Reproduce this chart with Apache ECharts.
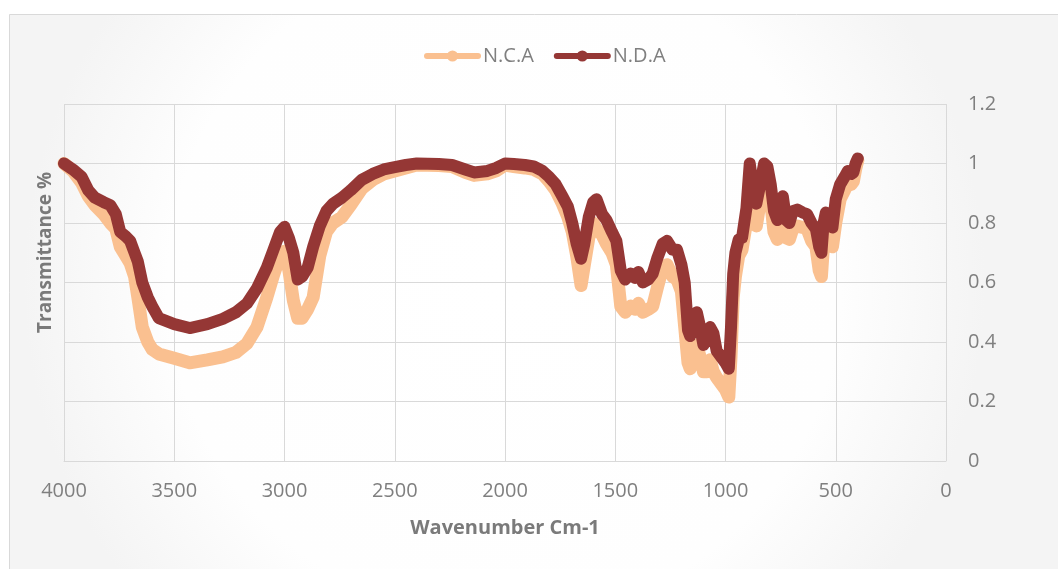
<!DOCTYPE html>
<html>
<head>
<meta charset="utf-8">
<script src="https://cdn.jsdelivr.net/npm/echarts@6/dist/echarts.min.js"></script>
<style>
    html, body { margin: 0; padding: 0; background: #fff; }
    .main { width: 1058px; height: 569px; }
</style>
</head>
<body>
<div id="ftir" class="main"></div>
<script>
// wavenumber (cm-1) shared by both spectra
var wavenumbers = [4000, 3960, 3920, 3890, 3860, 3820, 3790, 3765, 3745, 3720, 3700, 3680, 3665, 3645, 3620, 3600, 3570, 3500, 3430, 3350, 3280, 3220, 3170, 3125, 3080, 3050, 3020, 3000, 2980, 2960, 2940, 2920, 2895, 2870, 2840, 2810, 2780, 2740, 2700, 2650, 2600, 2550, 2500, 2450, 2400, 2300, 2240, 2180, 2140, 2080, 2040, 2000, 1960, 1910, 1870, 1830, 1800, 1770, 1740, 1715, 1695, 1675, 1655, 1640, 1620, 1600, 1585, 1560, 1540, 1515, 1495, 1475, 1455, 1430, 1410, 1395, 1375, 1350, 1330, 1310, 1285, 1265, 1240, 1220, 1200, 1185, 1170, 1160, 1145, 1130, 1115, 1100, 1085, 1070, 1055, 1040, 1020, 1000, 985, 975, 965, 955, 940, 925, 905, 890, 875, 860, 845, 825, 810, 795, 780, 765, 750, 740, 725, 710, 695, 675, 650, 630, 610, 590, 575, 565, 555, 545, 530, 515, 500, 480, 460, 445, 430, 420, 410, 400];

var ncaValues = [1.0, 0.975, 0.935, 0.89, 0.86, 0.83, 0.80, 0.78, 0.72, 0.69, 0.665, 0.62, 0.55, 0.45, 0.40, 0.375, 0.36, 0.345, 0.33, 0.34, 0.35, 0.365, 0.395, 0.45, 0.55, 0.625, 0.69, 0.705, 0.64, 0.54, 0.48, 0.48, 0.51, 0.55, 0.69, 0.77, 0.80, 0.82, 0.86, 0.915, 0.945, 0.965, 0.975, 0.985, 0.995, 0.993, 0.99, 0.97, 0.96, 0.965, 0.975, 0.995, 0.99, 0.985, 0.98, 0.965, 0.94, 0.91, 0.865, 0.82, 0.77, 0.69, 0.59, 0.66, 0.75, 0.80, 0.78, 0.76, 0.73, 0.70, 0.66, 0.52, 0.50, 0.52, 0.51, 0.53, 0.50, 0.51, 0.52, 0.58, 0.65, 0.66, 0.62, 0.61, 0.57, 0.45, 0.33, 0.31, 0.36, 0.39, 0.35, 0.30, 0.30, 0.34, 0.30, 0.28, 0.26, 0.24, 0.215, 0.35, 0.55, 0.62, 0.69, 0.71, 0.80, 0.95, 0.85, 0.79, 0.86, 0.94, 0.93, 0.87, 0.77, 0.745, 0.82, 0.83, 0.75, 0.745, 0.78, 0.79, 0.785, 0.78, 0.74, 0.72, 0.64, 0.62, 0.73, 0.76, 0.74, 0.72, 0.80, 0.88, 0.91, 0.935, 0.93, 0.94, 0.98, 1.01];

var ndaValues = [1.0, 0.98, 0.955, 0.91, 0.885, 0.87, 0.86, 0.83, 0.77, 0.755, 0.74, 0.70, 0.67, 0.60, 0.55, 0.52, 0.48, 0.46, 0.447, 0.46, 0.478, 0.50, 0.53, 0.58, 0.65, 0.71, 0.77, 0.787, 0.75, 0.70, 0.61, 0.62, 0.65, 0.72, 0.79, 0.84, 0.865, 0.885, 0.91, 0.945, 0.965, 0.98, 0.988, 0.995, 1.0, 0.998, 0.995, 0.98, 0.97, 0.975, 0.985, 1.0, 0.998, 0.995, 0.99, 0.975, 0.955, 0.93, 0.89, 0.855, 0.80, 0.73, 0.68, 0.73, 0.82, 0.87, 0.88, 0.83, 0.81, 0.77, 0.74, 0.64, 0.61, 0.63, 0.615, 0.635, 0.60, 0.61, 0.63, 0.68, 0.73, 0.74, 0.71, 0.71, 0.66, 0.60, 0.44, 0.42, 0.48, 0.50, 0.45, 0.39, 0.41, 0.45, 0.43, 0.37, 0.35, 0.33, 0.31, 0.45, 0.63, 0.70, 0.745, 0.75, 0.85, 1.0, 0.92, 0.865, 0.92, 1.0, 0.99, 0.93, 0.84, 0.81, 0.88, 0.89, 0.81, 0.80, 0.84, 0.845, 0.835, 0.83, 0.80, 0.78, 0.72, 0.70, 0.80, 0.835, 0.82, 0.785, 0.88, 0.93, 0.955, 0.975, 0.965, 0.97, 1.0, 1.017];

var xTicks = [4000, 3500, 3000, 2500, 2000, 1500, 1000, 500, 0];
var yTicks = [0, 0.2, 0.4, 0.6, 0.8, 1, 1.2];

var chartDom = document.getElementById('ftir');
var myChart = echarts.init(chartDom, null, { renderer: 'canvas' });

function pairs(vals) {
    return wavenumbers.map(function (w, i) { return [w, vals[i]]; });
}

var font = '"Open Sans", "Noto Sans", sans-serif';
var gridColor = '#d9d9d9';

var option = {
    animation: false,
    backgroundColor: '#fff',
    graphic: [
        {
            type: 'rect',
            z: -10,
            silent: true,
            shape: { x: 9.5, y: 14.5, width: 1100, height: 600 },
            style: {
                fill: new echarts.graphic.RadialGradient(0.45, 0.45, 0.8, [
                    { offset: 0, color: '#ffffff' },
                    { offset: 0.7, color: '#fefefe' },
                    { offset: 1, color: '#f4f4f4' }
                ]),
                stroke: gridColor,
                lineWidth: 1
            }
        }
    ],
    legend: {
        top: 41,
        left: 419,
        itemWidth: 51,
        itemHeight: 14,
        itemGap: 20,
        lineStyle: { width: 6 },
        textStyle: { fontFamily: font, fontSize: 20, color: '#7f7f7f' },
        data: ['N.C.A', 'N.D.A']
    },
    grid: {
        left: 64,
        right: 112,
        top: 104,
        bottom: 108
    },
    xAxis: {
        type: 'value',
        inverse: true,
        min: 0,
        max: 4000,
        interval: 500,
        name: 'Wavenumber Cm-1',
        nameLocation: 'middle',
        nameGap: 57,
        nameTextStyle: { fontFamily: font, fontSize: 20, fontWeight: 'bold', color: '#7a7a7a' },
        axisLine: { lineStyle: { color: gridColor, width: 1 } },
        axisTick: { show: false },
        axisLabel: {
            margin: 20,
            fontFamily: font,
            fontSize: 20,
            color: '#7f7f7f',
            formatter: function (v) { return xTicks.indexOf(v) >= 0 ? String(v) : ''; }
        },
        splitLine: { show: true, lineStyle: { color: gridColor, width: 1 } }
    },
    yAxis: [
        {
            type: 'value',
            position: 'right',
            min: 0,
            max: 1.2,
            interval: 0.2,
            axisLine: { show: false },
            axisTick: { show: false },
            axisLabel: {
                margin: 22,
                fontFamily: font,
                fontSize: 20,
                color: '#7f7f7f',
                formatter: function (v) {
                    var r = Math.round(v * 10) / 10;
                    return yTicks.indexOf(r) >= 0 ? String(r) : '';
                }
            },
            splitLine: { show: true, lineStyle: { color: gridColor, width: 1 } }
        },
        {
            // left axis only carries the title
            type: 'value',
            position: 'left',
            min: 0,
            max: 1.2,
            interval: 0.2,
            name: 'Transmittance %',
            nameLocation: 'middle',
            nameGap: 9,
            nameTextStyle: { fontFamily: font, fontSize: 19, fontWeight: 'bold', color: '#7a7a7a', padding: [0, 0, 0, 60] },
            axisLine: { show: false },
            axisTick: { show: false },
            axisLabel: { show: false },
            splitLine: { show: false }
        }
    ],
    series: [
        {
            name: 'N.C.A',
            type: 'line',
            data: pairs(ncaValues),
            symbol: 'circle',
            symbolSize: 13,
            showSymbol: false,
            lineStyle: { color: '#FAC090', width: 13, join: 'round', cap: 'round' },
            itemStyle: { color: '#FAC090', borderWidth: 0 }
        },
        {
            name: 'N.D.A',
            type: 'line',
            data: pairs(ndaValues),
            symbol: 'circle',
            symbolSize: 12,
            showSymbol: false,
            lineStyle: { color: '#953735', width: 12, join: 'round', cap: 'round' },
            itemStyle: { color: '#953735', borderWidth: 0 }
        }
    ]
};

option && myChart.setOption(option);
</script>
</body>
</html>
